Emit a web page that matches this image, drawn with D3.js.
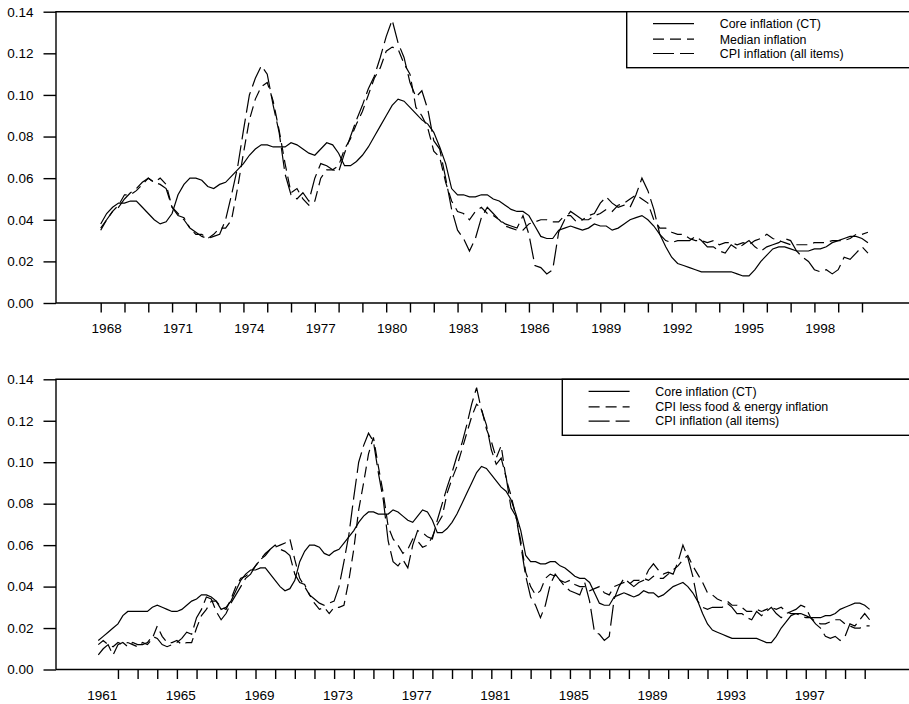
<!DOCTYPE html>
<html>
<head>
<meta charset="utf-8">
<script src="https://cdn.jsdelivr.net/npm/d3@7"></script>
<style>
  body { margin: 0; background: #fff; }
  svg { display: block; font-family: "Liberation Sans", Arial, Helvetica, sans-serif; }
</style>
</head>
<body>
<div id="chart"></div>
<script>
// quarterly values, 1961:1 .. 2000:2
const coreStart = 1961
const coreCT = [
  0.014, 0.016, 0.018, 0.020,
  0.022, 0.026, 0.028, 0.028,
  0.028, 0.028, 0.028, 0.030,
  0.031, 0.030, 0.029, 0.028,
  0.028, 0.029, 0.031, 0.033,
  0.034, 0.036, 0.036, 0.035,
  0.033, 0.029, 0.030, 0.033,
  0.038, 0.043, 0.046, 0.048,
  0.048, 0.049, 0.049, 0.046,
  0.043, 0.040, 0.038, 0.039,
  0.043, 0.052, 0.057, 0.060,
  0.060, 0.059, 0.056, 0.055,
  0.057, 0.058, 0.061, 0.064,
  0.067, 0.071, 0.074, 0.076,
  0.076, 0.075, 0.075, 0.075,
  0.077, 0.076, 0.074, 0.072,
  0.071, 0.074, 0.077, 0.076,
  0.072, 0.066, 0.066, 0.068,
  0.071, 0.075, 0.080, 0.085,
  0.090, 0.095, 0.098, 0.097,
  0.094, 0.091, 0.088, 0.086,
  0.082, 0.075, 0.067, 0.055,
  0.052, 0.052, 0.051, 0.051,
  0.052, 0.052, 0.050, 0.049,
  0.047, 0.045, 0.044, 0.044,
  0.042, 0.037, 0.032, 0.031,
  0.031, 0.035, 0.036, 0.037,
  0.036, 0.035, 0.036, 0.038,
  0.037, 0.037, 0.035, 0.036,
  0.038, 0.040, 0.041, 0.042,
  0.040, 0.037, 0.033, 0.027,
  0.022, 0.019, 0.018, 0.017,
  0.016, 0.015, 0.015, 0.015,
  0.015, 0.015, 0.015, 0.014,
  0.013, 0.013, 0.016, 0.020,
  0.023, 0.026, 0.027, 0.027,
  0.026, 0.025, 0.025, 0.025,
  0.026, 0.026, 0.027, 0.029,
  0.030, 0.031, 0.032, 0.032,
  0.031, 0.029
]

const cpiAll = [
  0.007, 0.010, 0.012, 0.007,
  0.012, 0.013, 0.011, 0.013,
  0.012, 0.012, 0.013, 0.016,
  0.015, 0.012, 0.011, 0.012,
  0.013, 0.015, 0.018, 0.017,
  0.025, 0.029, 0.035, 0.034,
  0.028, 0.024, 0.027, 0.032,
  0.036, 0.040, 0.044, 0.046,
  0.050, 0.053, 0.055, 0.058,
  0.060, 0.058, 0.057, 0.055,
  0.046, 0.042, 0.041, 0.036,
  0.034, 0.032, 0.031, 0.032,
  0.033, 0.040, 0.052, 0.065,
  0.083, 0.100, 0.108, 0.114,
  0.110, 0.095, 0.082, 0.062,
  0.052, 0.050, 0.053, 0.049,
  0.060, 0.067, 0.066, 0.064,
  0.063, 0.072, 0.080, 0.088,
  0.095, 0.103, 0.109, 0.118,
  0.128, 0.136, 0.125, 0.118,
  0.106, 0.099, 0.102, 0.093,
  0.078, 0.074, 0.060, 0.045,
  0.035, 0.031, 0.025, 0.031,
  0.041, 0.046, 0.043, 0.040,
  0.038, 0.037, 0.036, 0.042,
  0.033, 0.018, 0.017, 0.014,
  0.016, 0.034, 0.040, 0.044,
  0.042, 0.040, 0.042, 0.043,
  0.048, 0.051, 0.048, 0.046,
  0.047, 0.046, 0.052, 0.060,
  0.054, 0.045, 0.033, 0.030,
  0.029, 0.030, 0.030, 0.030,
  0.032, 0.030, 0.027, 0.027,
  0.025, 0.024, 0.028, 0.026,
  0.028, 0.030, 0.027, 0.025,
  0.027, 0.028, 0.029, 0.031,
  0.030, 0.025, 0.022, 0.020,
  0.016, 0.015, 0.016, 0.014,
  0.016, 0.022, 0.021, 0.024,
  0.027, 0.024
]

const cpiLessFoodEnergy = [
  0.012, 0.014, 0.012, 0.011,
  0.013, 0.012, 0.013, 0.012,
  0.011, 0.013, 0.012, 0.015,
  0.021, 0.016, 0.013, 0.013,
  0.014, 0.012, 0.013, 0.013,
  0.020, 0.026, 0.029, 0.033,
  0.033, 0.030, 0.029, 0.034,
  0.040, 0.044, 0.045, 0.047,
  0.050, 0.053, 0.056, 0.058,
  0.059, 0.060, 0.061, 0.063,
  0.053, 0.044, 0.040, 0.036,
  0.032, 0.029, 0.030, 0.027,
  0.030, 0.030, 0.031, 0.043,
  0.058, 0.077, 0.090, 0.104,
  0.112, 0.098, 0.085, 0.069,
  0.063, 0.060, 0.056, 0.058,
  0.063, 0.062, 0.059, 0.060,
  0.064, 0.070, 0.074, 0.085,
  0.092, 0.098, 0.106, 0.114,
  0.122, 0.128, 0.126, 0.116,
  0.110, 0.102, 0.108, 0.092,
  0.084, 0.074, 0.062, 0.047,
  0.040, 0.036, 0.038, 0.044,
  0.046, 0.045, 0.043, 0.042,
  0.043, 0.041, 0.040, 0.040,
  0.038, 0.039, 0.040, 0.037,
  0.036, 0.040, 0.041, 0.042,
  0.041, 0.043, 0.043, 0.044,
  0.043, 0.045, 0.044, 0.044,
  0.046, 0.048, 0.050, 0.053,
  0.055, 0.050, 0.046, 0.042,
  0.037, 0.036, 0.034, 0.033,
  0.033, 0.031, 0.031, 0.030,
  0.028, 0.028, 0.029, 0.028,
  0.029, 0.030, 0.029, 0.030,
  0.028, 0.027, 0.027, 0.026,
  0.025, 0.025, 0.023, 0.022,
  0.022, 0.023, 0.024, 0.024,
  0.022, 0.021, 0.020, 0.020,
  0.021, 0.021
]

// quarterly, 1968:1 .. 2000:2
const medianStart = 1968
const medianInfl = [
  0.035, 0.040, 0.044, 0.047,
  0.052, 0.052, 0.054, 0.057,
  0.060, 0.058, 0.060, 0.057,
  0.046, 0.043, 0.040, 0.036,
  0.033, 0.033, 0.031, 0.033,
  0.036, 0.036, 0.040, 0.055,
  0.072, 0.088, 0.098, 0.104,
  0.106, 0.097, 0.083, 0.067,
  0.053, 0.055, 0.050, 0.047,
  0.049, 0.060, 0.064, 0.064,
  0.066, 0.074, 0.079, 0.086,
  0.092, 0.100, 0.108, 0.113,
  0.121, 0.123, 0.122, 0.115,
  0.110, 0.094, 0.090, 0.084,
  0.073, 0.070, 0.058, 0.049,
  0.044, 0.043, 0.040, 0.044,
  0.046, 0.043, 0.042, 0.040,
  0.037, 0.036, 0.035, 0.035,
  0.038, 0.039, 0.040, 0.040,
  0.039, 0.039, 0.042, 0.042,
  0.039, 0.040, 0.040, 0.042,
  0.043, 0.045, 0.044, 0.047,
  0.048, 0.050, 0.052, 0.050,
  0.048, 0.040, 0.036, 0.036,
  0.034, 0.033, 0.033, 0.031,
  0.030, 0.030, 0.029, 0.030,
  0.028, 0.029, 0.029, 0.028,
  0.029, 0.028, 0.030, 0.031,
  0.033, 0.031, 0.030, 0.029,
  0.028, 0.028, 0.028, 0.028,
  0.029, 0.029, 0.029, 0.030,
  0.030, 0.030, 0.031, 0.033,
  0.033, 0.034
]

const yTicks = [0, 0.02, 0.04, 0.06, 0.08, 0.10, 0.12, 0.14]
const topTickYears = d3.range(1968, 2001)
const topLabelYears = [1968, 1971, 1974, 1977, 1980, 1983, 1986, 1989, 1992, 1995, 1998]
const bottomTickYears = d3.range(1962, 2001)
const bottomLabelYears = [1961, 1965, 1969, 1973, 1977, 1981, 1985, 1989, 1993, 1997]

const legendTop = ["Core inflation (CT)", "Median inflation", "CPI inflation (all items)"]
const legendBottom = ["Core inflation (CT)", "CPI less food & energy inflation", "CPI inflation (all items)"]

const dashSolid = null, dashShort = "11,6", dashLong = "21,6"

function quarterly(start, values){
  return values.map((v, i) => ({year: start + i / 4, value: v}))
}

const svg = d3.select("#chart")
  .append("svg")
    .attr("width", 909)
    .attr("height", 704)

function drawPanel(p){
  const g = svg.append("g")

  const x = d3.scaleLinear().domain(p.xDomain).range(p.xRange)
  const y = d3.scaleLinear().domain([0, 0.14]).range([p.bottom, p.top])

  // frame (right side runs off the picture)
  g.append("path")
    .attr("d", `M${p.left},${p.bottom}V${p.top}H1000M${p.left},${p.bottom}H1000`)
    .attr("fill", "none")
    .attr("stroke", "#000")
    .attr("stroke-width", 1.4)

  // y axis
  const ya = g.append("g")
    .attr("transform", `translate(${p.left},0)`)
    .call(d3.axisLeft(y).tickValues(yTicks).tickFormat(d3.format(".2f")).tickSize(12.5).tickPadding(10).tickSizeOuter(0))
  ya.select(".domain").remove()
  ya.selectAll("line").attr("stroke-width", 1.4)
  ya.selectAll("text").attr("font-size", "13.5px").attr("font-family", null).attr("fill", "#000")

  // x axis ticks
  const xa = g.append("g")
    .attr("transform", `translate(0,${p.bottom})`)
    .call(d3.axisBottom(x).tickValues(p.tickYears).tickFormat("").tickSize(9.5).tickSizeOuter(0))
  xa.select(".domain").remove()
  xa.selectAll("line").attr("stroke-width", 1.4)

  g.selectAll(".yearlab")
    .data(p.labelYears)
    .join("text")
      .attr("class", "yearlab")
      .attr("x", d => x(d + p.labelShift))
      .attr("y", p.bottom + 30)
      .attr("text-anchor", "middle")
      .attr("font-size", "13.5px")
      .text(d => d)

  const line = d3.line().x(d => x(d.year)).y(d => y(d.value))

  g.selectAll(".series")
    .data(p.series)
    .join("path")
      .attr("class", "series")
      .attr("d", d => line(d.points))
      .attr("fill", "none")
      .attr("stroke", "#000")
      .attr("stroke-width", 1.2)
      .attr("stroke-dasharray", d => d.dash)

  // legend
  const lg = g.append("g").attr("transform", `translate(${p.legendLeft},${p.top})`)
  lg.append("rect")
    .attr("x", 0).attr("y", 0)
    .attr("width", 400).attr("height", 56)
    .attr("fill", "#fff")
    .attr("stroke", "#000")
    .attr("stroke-width", 1.4)
  const rows = [12, 27.5, 41.8]
  p.series.forEach((s, i) => {
    lg.append("line")
      .attr("x1", 26.3).attr("x2", 67.3)
      .attr("y1", rows[i]).attr("y2", rows[i])
      .attr("stroke", "#000")
      .attr("stroke-width", 1.2)
      .attr("stroke-dasharray", s.dash)
    lg.append("text")
      .attr("x", 93)
      .attr("y", rows[i])
      .attr("dy", "0.35em")
      .attr("font-size", "12.4px")
      .text(p.legend[i])
  })
}

drawPanel({
  top: 11.7, bottom: 303, left: 56,
  xDomain: [1968, 2000], xRange: [100.7, 862],
  tickYears: topTickYears, labelYears: topLabelYears, labelShift: 0.25,
  legendLeft: 626.7, legend: legendTop,
  series: [
    {points: quarterly(medianStart, coreCT.slice((medianStart - coreStart) * 4)), dash: dashSolid},
    {points: quarterly(medianStart, medianInfl), dash: dashShort},
    {points: quarterly(medianStart, cpiAll.slice((medianStart - coreStart) * 4)), dash: dashLong}
  ]
})

drawPanel({
  top: 379.3, bottom: 669.5, left: 56,
  xDomain: [1961, 2000], xRange: [98.3, 864.7],
  tickYears: bottomTickYears, labelYears: bottomLabelYears, labelShift: 0.2,
  legendLeft: 562.3, legend: legendBottom,
  series: [
    {points: quarterly(coreStart, coreCT), dash: dashSolid},
    {points: quarterly(coreStart, cpiLessFoodEnergy), dash: dashShort},
    {points: quarterly(coreStart, cpiAll), dash: dashLong}
  ]
})
</script>
</body>
</html>
